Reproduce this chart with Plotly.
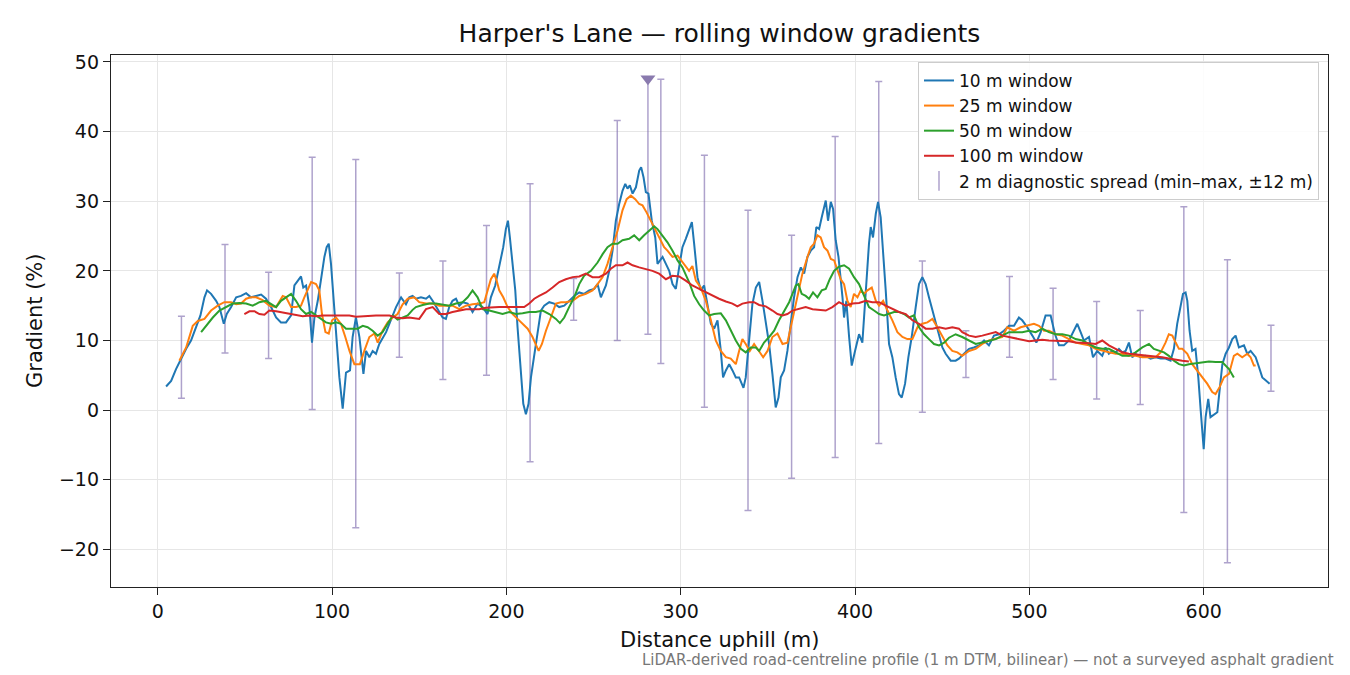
import plotly.graph_objects as go

# 10 m window (blue)
dist10 = [4.8, 7.7, 10.5, 13.4, 16.3, 19.1, 22.0, 24.5, 26.8, 28.3, 30.6, 33.5, 35.4, 37.9, 39.6,
          42.1, 45.0, 47.8, 50.7, 53.5, 56.4, 59.3, 62.1, 65.0, 67.9, 70.7, 73.6, 76.5, 78.4, 80.3,
          82.2, 83.5, 85.1, 87.0, 88.5, 89.9, 91.8, 93.7, 95.6, 96.9, 98.1, 99.4, 100.7, 102.3, 104.2,
          106.1, 108.0, 110.3, 111.8, 113.7, 115.7, 118.0, 119.5, 121.4, 123.3, 125.2, 127.1, 131.0, 133.8,
          136.7, 139.6, 142.4, 144.3, 146.2, 148.1, 151.0, 153.9, 155.8, 157.7, 160.5, 163.4, 165.3, 167.2,
          169.1, 171.1, 173.0, 174.9, 177.8, 180.6, 183.5, 186.3, 189.2, 191.1, 193.6, 195.9, 198.2, 199.7,
          200.9, 202.0, 203.6, 205.1, 206.4, 208.3, 209.7, 211.2, 212.7, 214.1, 216.0, 217.9, 219.8, 221.7,
          224.6, 227.4, 230.3, 233.2, 236.0, 238.9, 241.8, 244.6, 247.5, 250.4, 252.3, 254.2, 257.1, 259.0,
          260.9, 262.8, 264.7, 266.6, 268.2, 269.5, 270.8, 272.4, 274.3, 276.2, 277.3, 278.7, 280.0, 281.5,
          283.4, 285.4, 286.7, 288.0, 289.6, 291.5, 293.4, 295.3, 297.2, 299.1, 301.0, 302.9, 304.8, 306.4,
          307.7, 309.6, 311.5, 313.4, 315.3, 317.3, 319.2, 321.1, 323.0, 324.3, 325.9, 327.8, 329.7, 331.6,
          333.5, 336.0, 337.3, 339.2, 341.1, 343.1, 345.0, 346.9, 348.8, 350.7, 352.6, 354.5, 356.1, 357.4,
          359.3, 361.2, 363.1, 365.0, 367.0, 368.9, 370.8, 372.7, 374.6, 376.5, 377.8, 379.4, 380.9, 383.2,
          384.5, 386.1, 387.4, 388.9, 390.5, 391.8, 392.8, 393.7, 395.0, 396.6, 398.1, 400.0, 402.3, 404.2,
          406.1, 408.0, 409.0, 410.3, 411.9, 413.2, 414.7, 416.1, 417.6, 419.5, 421.4, 423.3, 425.2, 426.8,
          428.7, 430.6, 432.5, 434.8, 436.7, 438.6, 440.5, 442.4, 444.4, 446.3, 448.2, 450.1, 452.0, 454.9,
          457.7, 459.6, 462.5, 465.4, 468.2, 471.1, 474.0, 476.8, 479.7, 482.6, 485.4, 488.3, 491.2, 494.0,
          495.9, 498.8, 501.7, 504.0, 506.5, 509.3, 512.2, 514.7, 517.0, 519.8, 522.7, 525.6, 527.5, 529.4,
          531.3, 534.2, 536.5, 538.9, 541.8, 543.7, 545.6, 547.6, 549.5, 551.4, 553.3, 555.2, 557.1, 559.0,
          560.9, 563.8, 566.7, 569.5, 572.4, 575.3, 578.1, 581.0, 582.9, 584.8, 586.7, 588.1, 589.6, 590.6,
          591.9, 593.4, 595.3, 596.9, 598.3, 600.0, 601.1, 602.6, 603.9, 605.9, 607.8, 610.7, 612.6, 614.5,
          616.4, 618.3, 620.2, 623.1, 625.0, 626.9, 629.8, 631.7, 633.6, 635.5, 637.8]
grad10 = [3.4, 4.2, 5.9, 7.4, 8.8, 10.0, 11.9, 13.6, 16.2, 17.2, 16.7, 15.7, 14.8, 12.4, 13.8,
          14.8, 16.2, 16.4, 16.8, 16.2, 16.4, 16.6, 16.0, 14.8, 13.3, 12.6, 12.6, 13.6, 17.9, 18.6,
          19.2, 17.6, 17.9, 14.8, 9.7, 13.3, 15.7, 18.8, 22.0, 23.4, 23.9, 21.0, 16.2, 11.4, 4.7,
          0.2, 5.4, 5.7, 10.5, 13.3, 10.5, 5.2, 8.5, 7.6, 8.5, 8.1, 9.5, 11.2, 12.9,
          14.8, 16.2, 15.2, 16.2, 16.4, 16.0, 16.2, 16.0, 16.4, 15.7, 14.5, 13.3, 13.1, 14.8,
          15.7, 16.0, 15.0, 15.5, 15.3, 14.1, 15.3, 14.8, 13.8, 16.2, 17.9, 20.5, 23.4, 26.0,
          27.2, 24.8, 21.0, 17.2, 11.9, 5.7, 0.9, -0.6, 0.9, 4.7, 7.8, 11.4, 14.3, 15.0,
          15.5, 15.3, 14.8, 15.0, 15.7, 16.4, 16.9, 16.7, 17.2, 17.4, 18.1, 16.2, 17.9, 20.0,
          22.9, 27.2, 29.6, 31.5, 32.5, 31.8, 32.3, 31.1, 32.0, 34.4, 34.9, 33.4, 31.3, 31.1,
          27.2, 24.8, 21.0, 21.5, 22.0, 21.0, 20.0, 18.1, 17.4, 20.5, 23.4, 24.6, 25.8, 27.0,
          23.9, 19.1, 17.2, 17.9, 15.2, 12.4, 11.7, 12.9, 8.5, 4.7, 5.7, 6.6, 5.7, 4.7,
          4.7, 3.2, 4.7, 10.5, 15.2, 17.6, 18.4, 15.7, 12.4, 9.5, 5.2, 0.4, 1.8, 4.7,
          5.7, 8.5, 12.4, 16.2, 19.1, 20.5, 19.6, 22.0, 22.9, 23.4, 26.3, 26.0, 27.7, 30.1,
          27.2, 29.9, 28.9, 24.4, 22.0, 19.1, 16.2, 13.3, 15.7, 10.5, 6.4, 8.5, 10.9, 9.7,
          17.2, 23.9, 26.3, 24.8, 28.2, 29.9, 27.7, 22.9, 17.2, 9.5, 7.6, 4.7, 2.3, 1.8,
          3.8, 7.6, 10.5, 14.8, 18.1, 19.1, 18.1, 16.2, 14.3, 12.4, 10.5, 9.0, 8.1, 7.1,
          7.1, 7.4, 8.1, 8.8, 9.0, 9.3, 10.0, 9.3, 10.7, 10.9, 11.4, 12.1, 12.1, 13.3,
          12.9, 11.9, 10.7, 9.7, 11.2, 13.6, 13.6, 10.9, 9.3, 9.3, 10.0, 11.4, 12.4, 11.2,
          10.0, 10.5, 7.6, 8.5, 7.8, 9.0, 8.1, 8.5, 8.3, 8.8, 8.3, 8.5, 9.7, 7.6,
          8.1, 7.6, 7.8, 7.4, 7.6, 7.4, 7.4, 7.1, 8.8, 12.4, 15.2, 16.7, 16.9, 15.7,
          11.4, 8.5, 8.8, 4.7, -0.1, -5.6, -1.0, 1.6, -1.0, -0.6, -0.3, 6.6, 8.1, 9.0,
          10.2, 10.7, 9.0, 9.3, 8.1, 8.5, 7.6, 6.2, 4.7, 4.3, 3.8]

# 25 m window (orange)
dist25 = [12.4, 16.3, 20.1, 23.0, 26.8, 30.6, 34.4, 38.2, 42.1, 45.0, 47.8, 50.7, 53.5, 56.4, 60.2,
          64.0, 67.9, 69.8, 71.7, 73.6, 76.5, 79.3, 82.2, 84.1, 86.0, 88.0, 90.8, 92.7, 94.2, 96.2,
          98.1, 100.0, 102.3, 105.1, 107.6, 110.0, 112.8, 116.0, 118.5, 121.4, 124.3, 126.2, 129.0, 131.9,
          134.8, 137.6, 140.5, 143.4, 147.2, 150.0, 153.9, 157.7, 161.5, 165.3, 169.1, 173.0, 176.8, 180.6,
          184.4, 187.3, 189.2, 191.1, 193.0, 194.4, 195.9, 198.2, 200.7, 203.6, 206.4, 209.3, 212.2, 215.0,
          216.9, 218.5, 220.4, 222.7, 225.5, 228.4, 231.3, 234.1, 238.0, 241.8, 245.6, 249.4, 252.3, 255.2,
          258.0, 260.9, 263.8, 266.6, 269.0, 271.4, 273.9, 276.2, 278.1, 280.4, 282.9, 285.7, 288.6, 290.5,
          292.4, 295.3, 298.2, 301.0, 304.8, 306.7, 308.7, 311.5, 314.4, 317.3, 320.1, 323.0, 325.9, 328.7,
          331.6, 333.5, 335.4, 337.3, 339.6, 342.1, 344.6, 347.3, 349.8, 352.6, 355.5, 358.4, 361.2, 364.1,
          367.0, 369.8, 372.7, 374.6, 376.5, 378.4, 380.3, 382.2, 384.2, 386.1, 388.0, 389.9, 391.8, 393.7,
          395.6, 397.5, 399.4, 401.4, 403.3, 405.2, 407.1, 409.6, 411.9, 413.8, 416.1, 418.6, 421.4, 424.3,
          427.2, 430.0, 432.9, 435.8, 438.6, 441.5, 444.4, 447.2, 450.1, 453.0, 455.8, 458.7, 461.5, 465.4,
          469.2, 473.0, 476.8, 480.7, 484.5, 487.3, 491.2, 495.0, 498.8, 502.6, 505.5, 508.4, 511.2, 515.1,
          518.9, 522.7, 526.5, 530.4, 534.2, 538.0, 541.8, 545.6, 549.5, 553.3, 557.1, 560.9, 564.8, 568.6,
          572.4, 575.3, 578.1, 580.0, 582.0, 583.9, 585.8, 587.7, 590.6, 593.4, 596.3, 599.2, 602.0, 604.9,
          606.8, 609.1, 611.6, 614.5, 617.3, 619.3, 622.1, 625.0, 626.9, 628.8, 629.8]
grad25 = [7.1, 9.0, 12.1, 12.8, 13.1, 14.3, 15.0, 15.5, 15.5, 15.2, 15.3, 16.0, 16.2, 16.2, 15.8,
          15.0, 14.8, 15.7, 16.4, 16.2, 14.8, 14.8, 15.0, 16.2, 17.4, 18.4, 18.1, 17.2, 13.8, 11.2,
          11.0, 12.9, 13.3, 12.4, 10.5, 8.5, 6.6, 6.6, 8.5, 10.5, 11.0, 9.7, 11.4, 12.6,
          13.3, 13.8, 15.2, 16.0, 16.2, 15.5, 15.3, 15.3, 15.0, 15.0, 15.0, 14.5, 15.0, 15.2,
          15.3, 15.5, 17.2, 18.8, 19.6, 18.6, 17.2, 16.2, 14.8, 13.8, 13.1, 12.4, 11.7, 10.5,
          9.3, 8.5, 9.5, 11.4, 13.3, 15.3, 15.5, 15.5, 15.7, 16.4, 16.7, 17.2, 18.1, 19.1,
          21.0, 23.4, 25.8, 28.7, 30.3, 30.8, 30.3, 29.6, 29.4, 28.4, 27.2, 25.8, 24.4, 23.4,
          22.9, 22.0, 22.2, 21.3, 20.0, 20.7, 18.6, 17.6, 15.7, 12.9, 10.0, 8.5, 7.6, 7.4,
          6.6, 8.5, 10.2, 9.5, 8.5, 9.5, 8.5, 7.6, 8.5, 10.5, 11.0, 9.5, 9.7, 12.9,
          16.2, 19.6, 22.0, 23.4, 23.9, 25.1, 24.8, 23.4, 22.9, 21.7, 21.5, 20.0, 18.8, 18.1,
          15.7, 14.8, 16.7, 16.2, 17.2, 16.7, 17.2, 17.6, 15.7, 15.0, 15.7, 14.3, 12.9, 11.2,
          10.5, 10.2, 10.2, 11.9, 12.4, 12.6, 13.1, 11.9, 10.5, 9.3, 8.5, 8.3, 7.8, 8.5,
          8.8, 9.5, 10.0, 10.2, 10.5, 11.9, 11.4, 11.9, 12.1, 12.4, 12.1, 11.4, 11.4, 10.9,
          10.7, 10.2, 9.7, 9.5, 9.3, 8.8, 8.5, 8.3, 8.1, 8.1, 7.8, 7.8, 7.6, 7.6,
          7.6, 8.3, 9.7, 10.9, 10.7, 9.7, 8.8, 8.8, 8.1, 6.6, 5.7, 4.7, 3.8, 2.6,
          2.3, 3.3, 4.7, 5.2, 7.8, 8.1, 7.6, 8.1, 7.6, 6.4, 6.4]

# 50 m window (green)
dist50 = [24.9, 27.7, 31.6, 35.4, 39.2, 43.0, 46.9, 50.7, 54.5, 58.3, 62.1, 65.0, 67.9, 70.7, 73.6,
          76.5, 79.3, 82.2, 85.1, 88.0, 90.8, 93.7, 96.5, 99.4, 102.3, 105.1, 108.0, 111.8, 114.7, 117.6,
          120.4, 123.3, 126.2, 129.0, 131.9, 134.8, 137.6, 140.5, 143.4, 146.2, 148.1, 152.0, 155.8, 159.6,
          163.4, 167.2, 171.1, 174.9, 177.8, 180.6, 183.5, 186.3, 190.2, 194.0, 197.8, 201.6, 205.5, 209.3,
          213.1, 216.9, 220.8, 224.6, 228.4, 230.7, 233.2, 236.0, 238.9, 241.8, 244.6, 248.5, 252.3, 255.2,
          258.0, 260.9, 263.8, 266.6, 270.4, 273.3, 276.2, 279.0, 281.9, 284.8, 286.7, 289.6, 292.4, 295.3,
          298.2, 301.0, 304.8, 307.7, 310.6, 313.4, 316.3, 319.2, 323.0, 325.9, 328.7, 331.6, 334.5, 337.3,
          340.2, 343.1, 345.0, 347.8, 350.7, 353.6, 356.4, 359.3, 362.2, 364.1, 366.0, 367.5, 369.4, 371.7,
          373.6, 375.9, 378.4, 380.9, 383.2, 385.5, 388.0, 390.8, 393.7, 396.6, 399.4, 402.3, 405.2, 408.0,
          410.9, 413.8, 416.6, 419.5, 422.4, 425.2, 428.1, 431.0, 433.8, 436.7, 439.6, 442.4, 445.3, 448.2,
          451.1, 453.9, 457.7, 461.5, 465.4, 469.2, 473.0, 476.8, 480.7, 484.5, 488.3, 492.1, 495.9, 499.8,
          503.6, 507.4, 511.2, 515.1, 518.9, 522.7, 526.5, 530.4, 534.2, 538.0, 541.8, 545.6, 549.5, 553.3,
          557.1, 560.9, 564.8, 568.6, 571.4, 574.3, 577.2, 580.0, 582.9, 585.8, 588.7, 591.5, 595.3, 599.2,
          603.0, 606.8, 610.6, 614.5, 617.3]
grad50 = [11.2, 12.1, 13.3, 14.3, 14.8, 15.3, 15.4, 15.3, 15.0, 15.5, 15.7, 15.3, 14.8, 15.7, 16.2,
          16.7, 15.7, 14.5, 13.8, 14.1, 13.6, 13.1, 12.6, 12.4, 12.6, 12.4, 11.7, 11.7, 11.7, 12.1,
          11.9, 11.4, 10.7, 11.2, 12.4, 13.6, 13.0, 13.3, 13.6, 14.4, 14.8, 15.1, 15.3, 15.3,
          15.2, 15.0, 15.3, 15.5, 16.2, 17.2, 16.2, 14.5, 14.3, 14.1, 13.8, 14.1, 13.8, 13.9,
          14.1, 14.1, 14.3, 13.8, 13.1, 12.5, 13.3, 14.8, 16.2, 18.1, 19.3, 20.0, 21.2, 22.4,
          23.4, 23.9, 23.9, 24.4, 24.6, 25.1, 24.4, 25.1, 25.8, 26.4, 26.0, 25.1, 24.1, 22.9,
          21.5, 20.5, 18.4, 16.4, 15.2, 14.3, 13.6, 13.8, 13.9, 12.9, 11.4, 10.0, 8.8, 8.3,
          9.0, 9.0, 8.5, 9.7, 10.5, 11.4, 12.9, 14.3, 15.5, 16.7, 17.9, 18.1, 16.7, 16.4,
          16.0, 16.9, 16.2, 17.2, 17.4, 18.8, 20.0, 20.6, 20.8, 20.3, 19.1, 18.1, 16.4, 14.8,
          14.3, 13.8, 13.6, 13.8, 14.1, 14.1, 13.8, 13.3, 13.6, 11.9, 10.9, 10.2, 9.5, 9.3,
          9.7, 10.4, 10.9, 10.5, 10.0, 9.5, 9.7, 10.0, 10.2, 10.7, 11.2, 11.2, 11.2, 11.4,
          11.2, 11.7, 11.2, 10.9, 10.9, 10.7, 10.2, 10.0, 9.5, 9.0, 8.8, 8.8, 8.3, 7.8,
          7.8, 8.3, 9.0, 9.5, 8.8, 8.5, 8.3, 7.8, 7.1, 6.6, 6.4, 6.6, 6.7, 6.8,
          7.0, 6.9, 6.9, 5.9, 4.7]

# 100 m window (red)
dist100 = [49.7, 52.6, 55.5, 58.3, 61.2, 64.0, 67.9, 71.7, 75.5, 79.3, 83.2, 87.0, 90.8, 94.6, 98.5,
           102.3, 106.1, 109.9, 113.7, 117.6, 121.4, 125.2, 129.0, 132.9, 136.7, 140.5, 144.3, 150.0, 153.9,
           157.7, 161.5, 165.3, 169.1, 173.0, 176.8, 180.6, 184.4, 188.3, 192.1, 195.9, 199.7, 203.6, 207.4,
           210.2, 213.1, 216.0, 218.8, 222.7, 226.5, 230.3, 234.1, 238.0, 241.8, 245.6, 249.4, 253.2, 257.1,
           259.9, 262.8, 266.6, 269.5, 272.4, 276.2, 280.0, 283.8, 287.6, 291.5, 295.3, 299.1, 302.9, 306.7,
           310.6, 314.4, 318.2, 322.0, 325.9, 329.7, 332.5, 335.4, 339.2, 342.1, 345.0, 348.8, 352.6, 355.5,
           358.4, 361.2, 364.1, 367.9, 371.7, 375.6, 379.4, 383.2, 387.0, 390.8, 394.7, 398.5, 402.3, 406.1,
           409.9, 413.8, 417.6, 421.4, 425.2, 429.1, 432.9, 436.7, 440.5, 444.4, 448.2, 452.0, 455.8, 459.6,
           461.5, 465.4, 469.2, 473.0, 476.8, 480.7, 484.5, 488.3, 492.1, 495.9, 499.8, 503.6, 507.4, 511.2,
           515.1, 518.9, 522.7, 526.5, 530.4, 534.2, 538.0, 541.8, 545.6, 549.5, 553.3, 557.1, 560.9, 564.8,
           568.6, 572.4, 576.2, 580.0, 583.9, 587.7, 591.5]
grad100 = [13.8, 14.2, 14.2, 13.8, 13.7, 14.3, 14.2, 14.0, 13.8, 13.7, 13.5, 13.6, 13.5, 13.6, 13.6,
           13.5, 13.6, 13.6, 13.4, 13.5, 13.5, 13.6, 13.6, 13.6, 13.3, 13.2, 13.3, 13.1, 14.5,
           14.8, 13.8, 13.8, 14.1, 14.3, 14.5, 14.5, 14.5, 14.7, 14.8, 14.8, 14.8, 14.8, 14.9,
           14.8, 15.3, 16.0, 16.4, 16.9, 17.6, 18.4, 18.8, 19.1, 19.2, 19.6, 19.1, 19.1, 19.6,
           20.3, 20.8, 20.8, 21.2, 20.8, 20.5, 20.3, 20.0, 19.6, 18.8, 19.3, 19.2, 18.6, 17.9,
           17.4, 16.9, 16.4, 16.0, 15.6, 15.3, 14.9, 15.3, 15.5, 15.5, 15.1, 14.9, 14.3, 13.8,
           13.6, 13.8, 14.3, 14.5, 14.8, 14.5, 14.4, 14.3, 14.8, 15.5, 15.0, 15.3, 15.4, 15.7,
           15.5, 15.5, 15.0, 14.5, 14.1, 13.8, 12.9, 12.4, 11.7, 11.7, 11.9, 11.7, 11.9, 11.7,
           11.2, 10.7, 10.5, 10.7, 10.9, 11.2, 10.7, 10.5, 10.2, 10.0, 9.9, 10.0, 10.1, 10.0,
           10.0, 9.9, 9.9, 9.7, 9.7, 9.6, 9.5, 10.0, 9.3, 8.8, 8.3, 8.1, 8.0, 8.0,
           7.8, 7.7, 7.6, 7.4, 7.2, 7.1, 7.0]

# 2 m diagnostic spread (min–max within ±12 m)
spread_dist = [13.6, 38.6, 63.6, 88.6, 113.6, 138.6, 163.6, 188.6, 213.6, 238.6, 263.6, 288.6, 313.6,
               338.6, 363.6, 388.6, 413.6, 438.6, 463.6, 488.6, 513.6, 538.6, 563.6, 588.6, 613.6, 638.6]
spread_lo = [1.7, 8.2, 7.4, 0.1, -16.9, 7.6, 4.4, 5.0, -7.4, 12.9, 10.0, 6.7, 0.4,
             -14.4, -9.8, -6.8, -4.8, -0.3, 4.7, 7.6, 4.4, 1.6, 0.8, -14.7, -21.9, 2.7]
spread_hi = [13.5, 23.8, 19.8, 36.3, 36.0, 19.7, 21.4, 26.5, 32.5, 18.9, 41.6, 47.5, 36.6,
             28.7, 25.1, 39.3, 47.2, 21.4, 11.4, 19.2, 17.5, 15.6, 14.3, 29.2, 21.6, 12.2]

# spread that runs off the top (clipped, flagged with a marker)
clip_dist = [281.2]
clip_lo = [10.9]
clip_hi = [47.6]

BLUE, ORANGE, GREEN, RED = "#1f77b4", "#ff7f0e", "#2ca02c", "#d62728"
ERR = "rgba(120,100,170,0.6)"
FONT = "DejaVu Sans"

fig = go.Figure()

# error bars (min-max)
fig.add_trace(go.Scatter(
    x=spread_dist, y=spread_lo, mode="markers", marker=dict(size=1, opacity=0),
    error_y=dict(type="data", symmetric=False,
                 array=[h - l for h, l in zip(spread_hi, spread_lo)],
                 arrayminus=[0] * len(spread_lo),
                 color=ERR, thickness=1.5, width=3.5),
    showlegend=False, hoverinfo="skip"))
fig.add_trace(go.Scatter(
    x=clip_dist, y=clip_lo, mode="markers", marker=dict(size=1, opacity=0),
    error_y=dict(type="data", symmetric=False,
                 array=[h - l for h, l in zip(clip_hi, clip_lo)], arrayminus=[0],
                 color=ERR, thickness=1.5, width=3.5),
    showlegend=False, hoverinfo="skip"))
fig.add_trace(go.Scatter(
    x=clip_dist, y=clip_hi, mode="markers",
    marker=dict(symbol="triangle-down", size=13, color="#8a7aae"),
    showlegend=False, hoverinfo="skip"))

for d, g, c, name in [(dist10, grad10, BLUE, "10 m window"),
                      (dist25, grad25, ORANGE, "25 m window"),
                      (dist50, grad50, GREEN, "50 m window"),
                      (dist100, grad100, RED, "100 m window")]:
    fig.add_trace(go.Scatter(x=d, y=g, mode="lines", name=name,
                             line=dict(color=c, width=2)))

# legend entry for the spread
fig.add_trace(go.Scatter(
    x=[None], y=[None], mode="markers", name="2 m diagnostic spread (min–max, ±12 m)",
    marker=dict(symbol="line-ns-open", size=14, color=ERR, line=dict(width=1.5, color=ERR))))

axis_common = dict(showline=True, linecolor="#222", linewidth=1.3, mirror=True,
                   ticks="outside", ticklen=7, tickwidth=1.3, tickcolor="#222",
                   showgrid=True, gridcolor="#e6e6e6", gridwidth=1, zeroline=False,
                   tickfont=dict(family=FONT, size=19, color="#111"))

fig.update_layout(
    width=1350, height=675,
    paper_bgcolor="white", plot_bgcolor="white",
    margin=dict(l=111, r=22, t=55, b=88),
    font=dict(family=FONT, color="#111"),
    title=dict(text="Harper's Lane — rolling window gradients", x=0.5, xref="paper",
               xanchor="center", y=0.951, yanchor="middle",
               font=dict(family=FONT, size=25, color="#111")),
    xaxis=dict(range=[-26.8, 671.3], tickmode="array", tickvals=[0, 100, 200, 300, 400, 500, 600],
               **axis_common),
    yaxis=dict(range=[-25.4, 51.0], tickmode="array",
               tickvals=[-20, -10, 0, 10, 20, 30, 40, 50], **axis_common),
    legend=dict(x=0.9926, xanchor="right", y=0.987, yanchor="top",
                bgcolor="rgba(255,255,255,0.85)", bordercolor="#cccccc", borderwidth=1,
                font=dict(family=FONT, size=17, color="#111"), tracegroupgap=0),
    showlegend=True,
    annotations=[
        dict(text="Distance uphill (m)", xref="paper", yref="paper", x=0.5, y=-0.0996,
             xanchor="center", yanchor="middle", showarrow=False,
             font=dict(family=FONT, size=21, color="#111")),
        dict(text="Gradient (%)", xref="paper", yref="paper", x=-0.0625, y=0.5,
             xanchor="center", yanchor="middle", textangle=-90, showarrow=False,
             font=dict(family=FONT, size=21, color="#111")),
        dict(text="LiDAR-derived road-centreline profile (1 m DTM, bilinear) — not a surveyed asphalt gradient",
             xref="paper", yref="paper", x=1.0066, y=-0.137, xanchor="right", yanchor="middle",
             showarrow=False, font=dict(family=FONT, size=15, color="#777")),
    ],
)

# the page body has a default 8 px margin; remove it so the figure sits at the window origin
fig.write_html("out.html", config={"displayModeBar": False},
               post_script="document.body.style.margin='0';")
